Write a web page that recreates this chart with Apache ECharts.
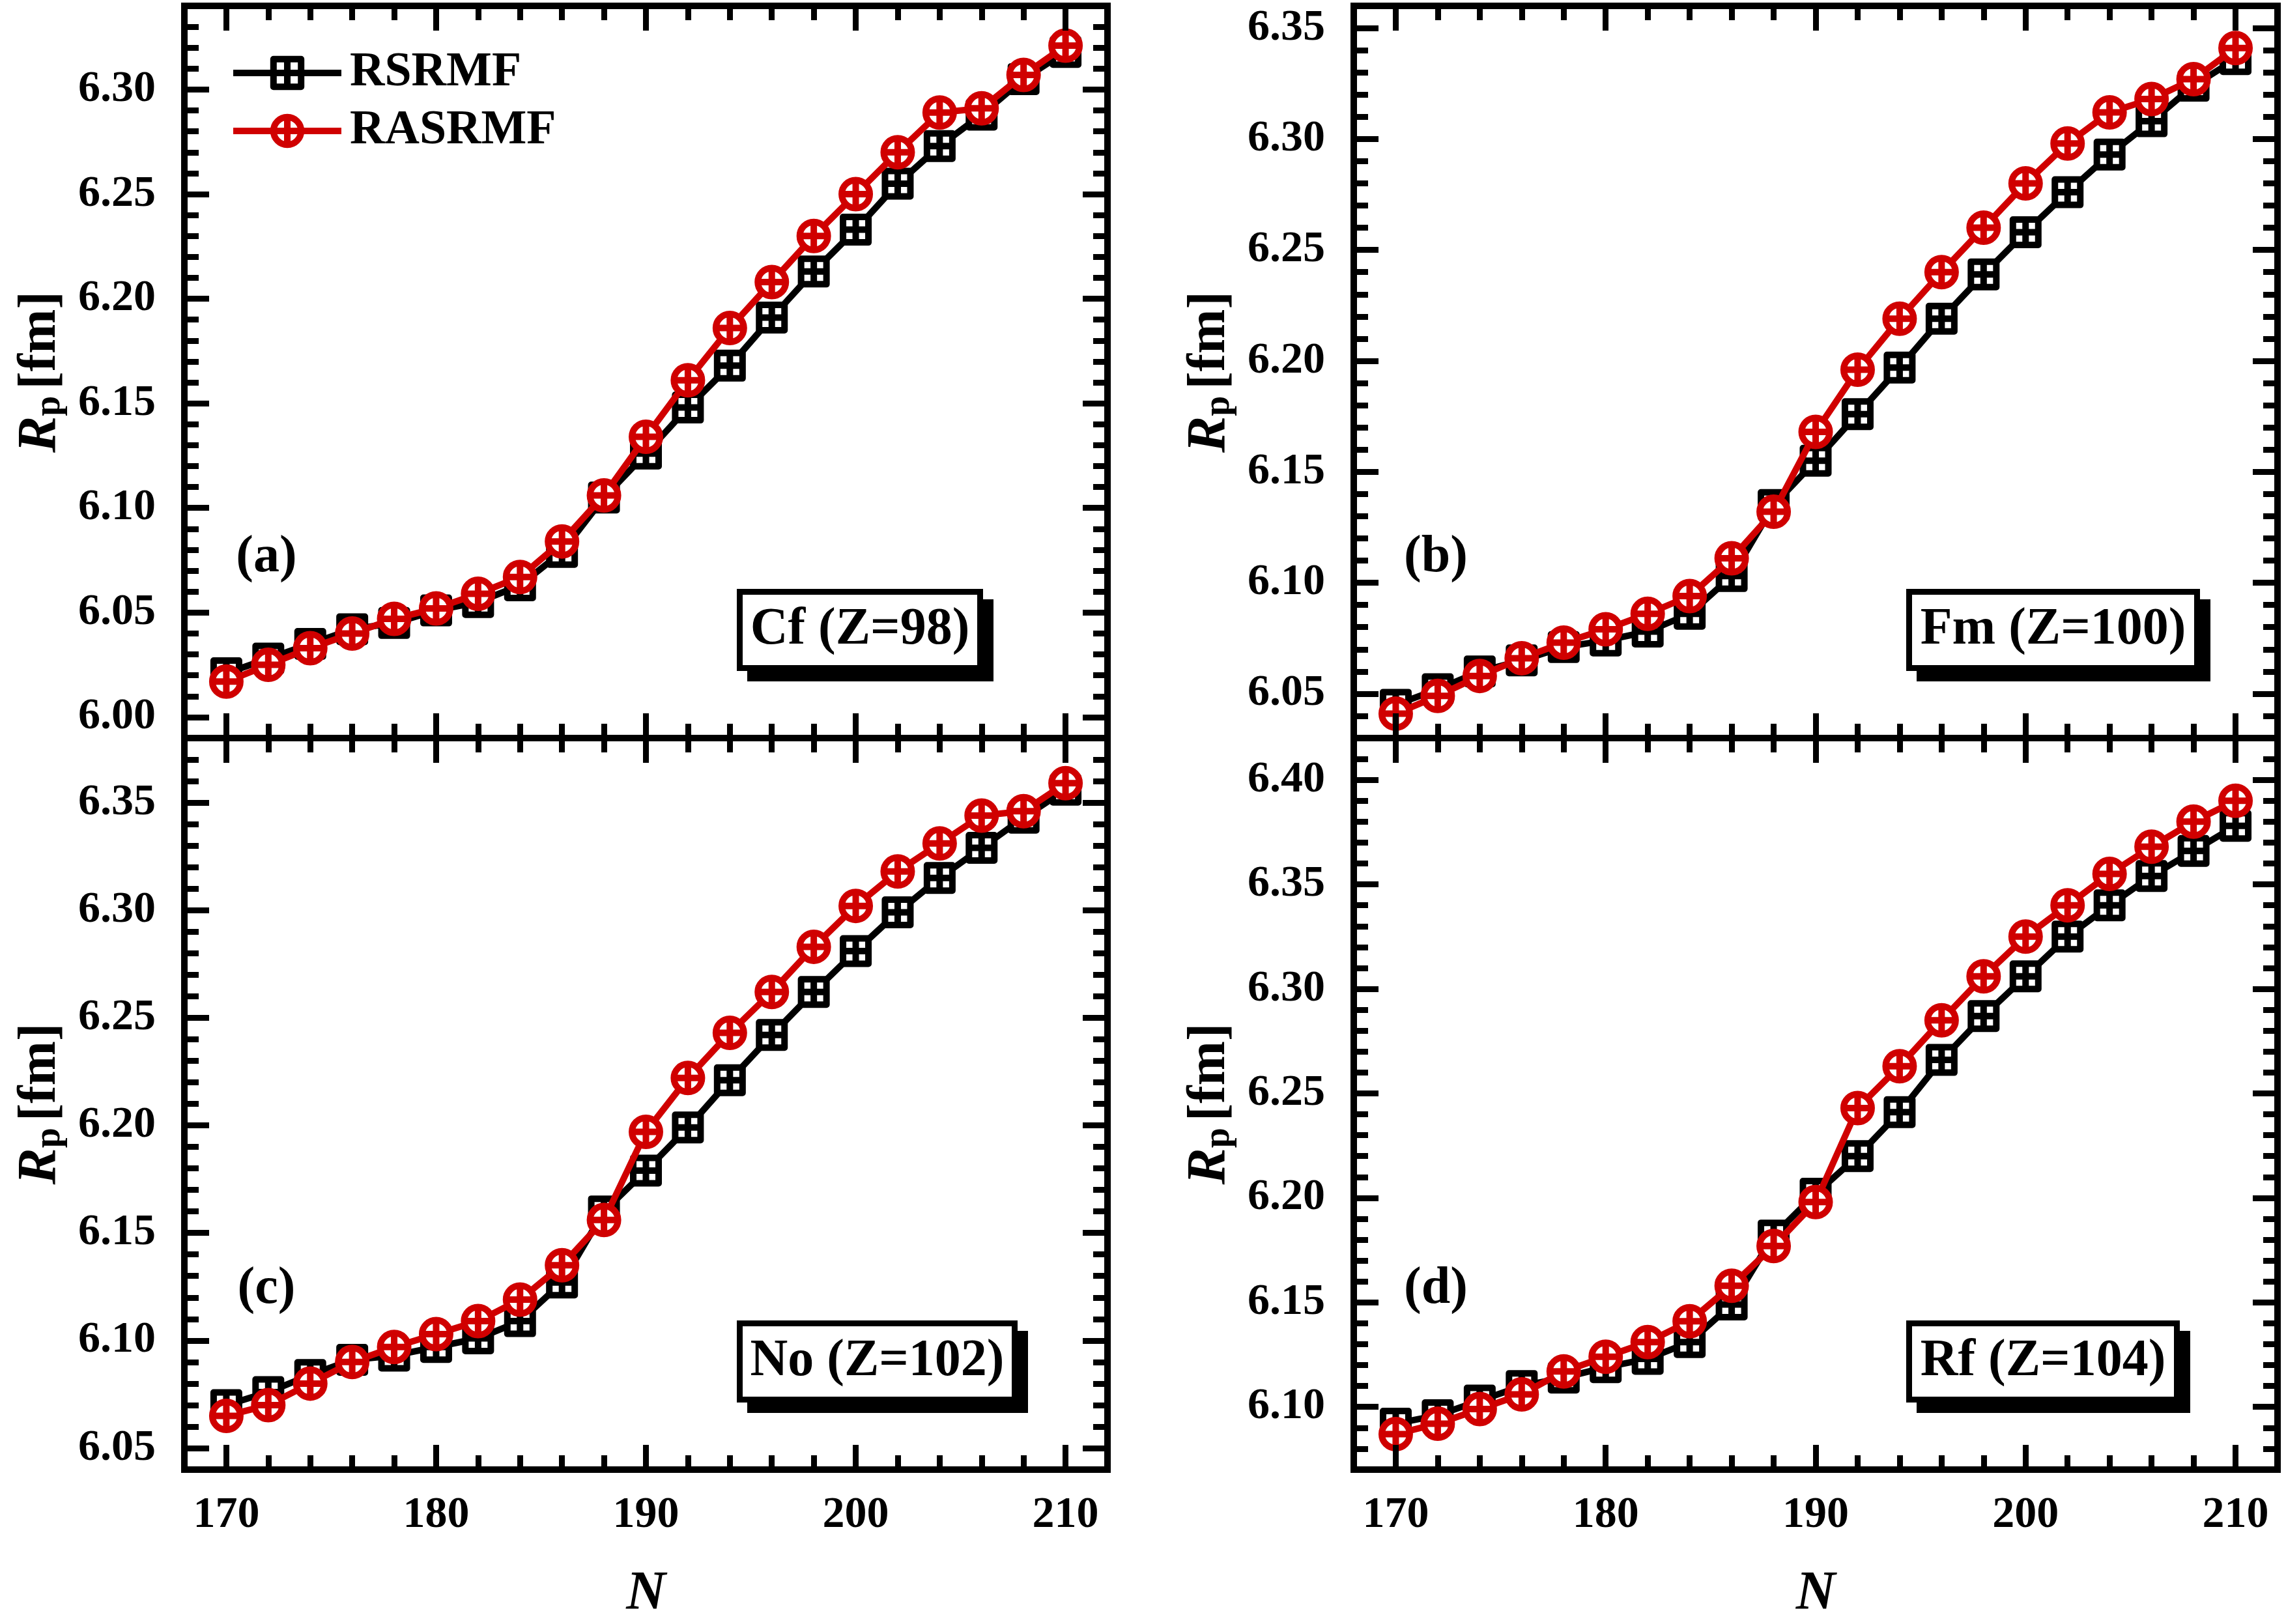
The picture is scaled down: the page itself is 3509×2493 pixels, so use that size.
<!DOCTYPE html>
<html>
<head>
<meta charset="utf-8">
<script src="https://cdn.jsdelivr.net/npm/echarts@6/dist/echarts.min.js"></script>
<style>
  html, body { margin: 0; padding: 0; background: #fff; }
  #main { width: 3509px; height: 2493px; }
</style>
</head>
<body>
<div id="main"></div>
<script>
// neutron number N (x axis)
const neutronN = [170, 172, 174, 176, 178, 180, 182, 184, 186, 188, 190,
                  192, 194, 196, 198, 200, 202, 204, 206, 208, 210];

// proton radius Rp [fm]
const rsrmfCf  = [6.021, 6.028, 6.035, 6.042, 6.045, 6.051, 6.055, 6.063, 6.079, 6.105, 6.126,
                  6.148, 6.168, 6.191, 6.213, 6.233, 6.255, 6.273, 6.288, 6.305, 6.318];
const rasrmfCf = [6.017, 6.025, 6.033, 6.040, 6.047, 6.052, 6.059, 6.067, 6.084, 6.106, 6.134,
                  6.161, 6.186, 6.208, 6.230, 6.250, 6.270, 6.289, 6.291, 6.307, 6.321];

const rsrmfFm  = [6.045, 6.052, 6.060, 6.065, 6.071, 6.074, 6.078, 6.086, 6.103, 6.135, 6.155,
                  6.176, 6.197, 6.219, 6.239, 6.258, 6.276, 6.293, 6.308, 6.324, 6.336];
const rasrmfFm = [6.041, 6.049, 6.058, 6.066, 6.073, 6.079, 6.086, 6.094, 6.111, 6.132, 6.168,
                  6.196, 6.219, 6.240, 6.260, 6.280, 6.298, 6.312, 6.318, 6.327, 6.341];

const rsrmfNo  = [6.070, 6.076, 6.084, 6.091, 6.093, 6.097, 6.101, 6.109, 6.127, 6.160, 6.179,
                  6.199, 6.221, 6.242, 6.262, 6.281, 6.299, 6.315, 6.329, 6.343, 6.356];
const rasrmfNo = [6.065, 6.070, 6.080, 6.090, 6.097, 6.103, 6.109, 6.119, 6.135, 6.156, 6.197,
                  6.222, 6.243, 6.262, 6.283, 6.302, 6.318, 6.331, 6.344, 6.346, 6.359];

const rsrmfRf  = [6.092, 6.096, 6.103, 6.110, 6.114, 6.119, 6.123, 6.131, 6.149, 6.182, 6.202,
                  6.220, 6.241, 6.266, 6.287, 6.306, 6.325, 6.340, 6.354, 6.366, 6.378];
const rasrmfRf = [6.087, 6.092, 6.099, 6.106, 6.117, 6.124, 6.131, 6.141, 6.158, 6.177, 6.198,
                  6.243, 6.263, 6.285, 6.306, 6.325, 6.340, 6.355, 6.368, 6.380, 6.390];

// tick labels
const xTicks  = [170, 180, 190, 200, 210];
const yTicksA = [6.00, 6.05, 6.10, 6.15, 6.20, 6.25, 6.30];
const yTicksB = [6.05, 6.10, 6.15, 6.20, 6.25, 6.30, 6.35];
const yTicksC = [6.05, 6.10, 6.15, 6.20, 6.25, 6.30, 6.35];
const yTicksD = [6.10, 6.15, 6.20, 6.25, 6.30, 6.35, 6.40];

const FONT = '"Liberation Serif", "Times New Roman", serif';
const RED = '#d00000';
const squarePlus = 'path://M-1,-1L1,-1L1,1L-1,1Z M0,-1L0,1 M-1,0L1,0';
const circlePlus = 'path://M-1,0A1,1 0 1 1 1,0A1,1 0 1 1 -1,0Z M0,-1L0,1 M-1,0L1,0';

function steps(min, max, step) {
    let out = [];
    let n = Math.round((max - min) / step);
    for (let i = 0; i <= n; i++) out.push(+(min + i * step).toFixed(2));
    return out;
}

let panels = [
    {grid: {left: 283, top: 9, width: 1417, height: 1124}, yMin: 5.99, yMax: 6.34, yTicks: yTicksA,
        rs: rsrmfCf, ras: rasrmfCf, tag: '(a)', box: 'Cf (Z=98)', boxW: 378, xLabels: false},
    {grid: {left: 2078, top: 9, width: 1418, height: 1124}, yMin: 6.03, yMax: 6.36, yTicks: yTicksB,
        rs: rsrmfFm, ras: rasrmfFm, tag: '(b)', box: 'Fm (Z=100)', boxW: 451, xLabels: false},
    {grid: {left: 283, top: 1133, width: 1417, height: 1123}, yMin: 6.04, yMax: 6.38, yTicks: yTicksC,
        rs: rsrmfNo, ras: rasrmfNo, tag: '(c)', box: 'No (Z=102)', boxW: 431, xLabels: true},
    {grid: {left: 2078, top: 1133, width: 1418, height: 1123}, yMin: 6.07, yMax: 6.42, yTicks: yTicksD,
        rs: rsrmfRf, ras: rasrmfRf, tag: '(d)', box: 'Rf (Z=104)', boxW: 420, xLabels: true}
];

let grids = [], xAxes = [], yAxes = [], series = [], graphics = [];

function axisDef(kind, gridIndex, position, min, max, ticks, len, line, labels, labelValues) {
    return {
        type: 'value', gridIndex: gridIndex, position: position, min: min, max: max,
        axisLine: {show: line, onZero: false, lineStyle: {color: '#000', width: 10, cap: 'square'}},
        axisTick: {show: true, inside: true, length: len, customValues: ticks,
            lineStyle: {color: '#000', width: 9}},
        axisLabel: {show: labels, customValues: labelValues, margin: kind === 'x' ? 36 : 44,
            color: '#000', fontFamily: FONT, fontWeight: 'bold', fontSize: 68,
            formatter: function (v) { return kind === 'x' ? String(v) : v.toFixed(2); }},
        splitLine: {show: false},
        z: 5
    };
}

panels.forEach(function (p, i) {
    grids.push(Object.assign({containLabel: false}, p.grid));
    let xMinor = steps(168, 212, 2);
    let yMinor = steps(p.yMin, p.yMax, 0.01);
    xAxes.push(axisDef('x', i, 'bottom', 168, 212, xTicks, 38, true, p.xLabels, xTicks));
    xAxes.push(axisDef('x', i, 'bottom', 168, 212, xMinor, 22, false, false));
    xAxes.push(axisDef('x', i, 'top', 168, 212, xTicks, 38, true, false));
    xAxes.push(axisDef('x', i, 'top', 168, 212, xMinor, 22, false, false));

    let yMain = axisDef('y', i, 'left', p.yMin, p.yMax, p.yTicks, 38, true, true, p.yTicks);
    yMain.name = '{r|R}{p|p}{f|[fm]}';
    yMain.nameLocation = 'middle';
    yMain.nameRotate = 90;
    yMain.nameGap = 178;
    yMain.nameTextStyle = {
        color: '#000', fontFamily: FONT, fontWeight: 'bold', fontSize: 80,
        rich: {
            r: {fontFamily: FONT, fontWeight: 'bold', fontStyle: 'italic', fontSize: 84, lineHeight: 84},
            p: {fontFamily: FONT, fontWeight: 'bold', fontSize: 56, lineHeight: 34, verticalAlign: 'bottom', padding: [0, 10, 0, 0]},
            f: {fontFamily: FONT, fontWeight: 'bold', fontSize: 82, lineHeight: 84}
        }
    };
    yAxes.push(yMain);
    yAxes.push(axisDef('y', i, 'left', p.yMin, p.yMax, yMinor, 22, false, false));
    yAxes.push(axisDef('y', i, 'right', p.yMin, p.yMax, p.yTicks, 38, true, false));
    yAxes.push(axisDef('y', i, 'right', p.yMin, p.yMax, yMinor, 22, false, false));

    if (p.xLabels) {
        xAxes[4 * i].name = 'N';
        xAxes[4 * i].nameLocation = 'middle';
        xAxes[4 * i].nameGap = 150;
        xAxes[4 * i].nameTextStyle = {color: '#000', fontFamily: FONT, fontWeight: 'bold',
            fontStyle: 'italic', fontSize: 84};
    }

    series.push({
        name: 'RSRMF', type: 'line', xAxisIndex: 4 * i, yAxisIndex: 4 * i,
        data: neutronN.map(function (n, k) { return [n, p.rs[k]]; }),
        symbol: squarePlus, symbolSize: 39,
        lineStyle: {color: '#000', width: 10},
        itemStyle: {color: '#fff', borderColor: '#000', borderWidth: 10, borderJoin: 'round'},
        emphasis: {disabled: true}, z: 3
    });
    series.push({
        name: 'RASRMF', type: 'line', xAxisIndex: 4 * i, yAxisIndex: 4 * i,
        data: neutronN.map(function (n, k) { return [n, p.ras[k]]; }),
        symbol: circlePlus, symbolSize: 43,
        lineStyle: {color: RED, width: 10},
        itemStyle: {color: '#fff', borderColor: RED, borderWidth: 10},
        emphasis: {disabled: true}, z: 4
    });

    // element label box with drop shadow, and panel tag
    let bx = p.grid.left + 848, by = p.grid.top + p.grid.height - 229, bh = 126;
    graphics.push({type: 'rect', z: 10, shape: {x: bx + 16, y: by + 16, width: p.boxW, height: bh},
        style: {fill: '#000'}});
    graphics.push({type: 'rect', z: 11, shape: {x: bx + 4.5, y: by + 4.5, width: p.boxW - 9, height: bh - 9},
        style: {fill: '#fff', stroke: '#000', lineWidth: 9}});
    graphics.push({type: 'text', z: 12, x: bx + p.boxW / 2, y: by + bh / 2,
        style: {text: p.box, fill: '#000', font: 'bold 80px ' + FONT, align: 'center', verticalAlign: 'middle'}});
    graphics.push({type: 'text', z: 12, x: p.grid.left + 126, y: p.grid.top + p.grid.height - 277,
        style: {text: p.tag, fill: '#000', font: 'bold 80px ' + FONT, align: 'center', verticalAlign: 'middle'}});
});

let chart = echarts.init(document.getElementById('main'), null, {renderer: 'canvas'});
chart.setOption({
    backgroundColor: '#fff',
    animation: false,
    textStyle: {fontFamily: FONT},
    legend: {
        left: 348, top: 70, orient: 'vertical', itemWidth: 166, itemHeight: 53, itemGap: 15,
        selectedMode: false, data: ['RSRMF', 'RASRMF'],
        itemStyle: {borderWidth: 10},
        lineStyle: {width: 10},
        textStyle: {fontFamily: FONT, fontWeight: 'bold', fontSize: 74,
            color: '#000', padding: [0, 0, 0, 8]}
    },
    grid: grids,
    xAxis: xAxes,
    yAxis: yAxes,
    series: series,
    graphic: graphics
});
</script>
</body>
</html>
